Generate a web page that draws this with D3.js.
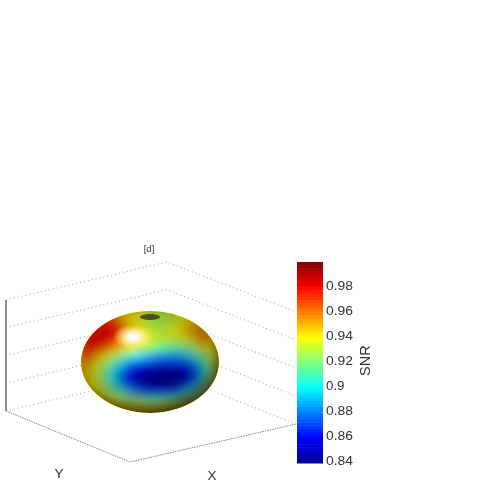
<!DOCTYPE html>
<html lang="en">

<head>
    <meta charset="utf-8">
    <title>SNR surface</title>
    <script src="https://d3js.org/d3.v7.min.js"></script>
    <style>
        html, body { margin: 0; padding: 0; background: #fff; }
        text { font-family: "Liberation Sans", Arial, sans-serif; fill: #333; }
    </style>
</head>

<body>
    <script type="text/javascript">
        var w = 485;
        var h = 485;

        // SNR, row by row from the top of the ball
        var snrRows = [
            [.955, .955, .960, .962, .950, .942, .940, .930, .925, .925, .930, .935, .940, .945, .945, .945],
            [.968, .970, .975, .975, .962, .945, .938, .930, .925, .925, .930, .935, .942, .948, .950, .945],
            [.975, .975, .980, .980, .972, .958, .945, .935, .930, .930, .935, .940, .950, .958, .955, .945],
            [.975, .980, .980, .977, .965, .952, .945, .938, .932, .928, .928, .930, .936, .948, .955, .945],
            [.975, .975, .968, .955, .943, .935, .928, .922, .917, .912, .910, .910, .916, .928, .938, .942],
            [.965, .955, .942, .930, .917, .905, .895, .887, .882, .878, .878, .881, .888, .904, .920, .935],
            [.952, .940, .926, .910, .892, .873, .860, .854, .851, .850, .850, .853, .861, .880, .906, .930],
            [.945, .935, .921, .898, .876, .858, .847, .842, .839, .838, .838, .841, .850, .870, .901, .928],
            [.945, .938, .926, .905, .883, .863, .850, .843, .839, .838, .838, .843, .856, .881, .911, .932],
            [.945, .940, .933, .921, .907, .888, .873, .865, .860, .860, .864, .874, .890, .909, .926, .938],
            [.945, .945, .942, .938, .933, .926, .920, .914, .910, .910, .912, .917, .923, .931, .938, .942],
            [.945, .945, .945, .945, .945, .942, .940, .938, .938, .938, .938, .940, .942, .945, .945, .945]
        ];

        var cbTicks = [0.84, 0.86, 0.88, 0.9, 0.92, 0.94, 0.96, 0.98];
        var cbMin = 0.8376;
        var cbMax = 0.9984;
        var wallLevels = [0, 1, 2, 3, 4];
        var jetStops = ["#00008f", "#0000ff", "#00ffff", "#ffff00", "#ff0000", "#800000"];
        var jetPos = [0, 0.125, 0.375, 0.625, 0.875, 1];

        var svg = d3.select("body")
            .append("svg").attr("width", w).attr("height", h)
            .style("display", "block");
        var defs = svg.append("defs");

        var soft = defs.append("filter").attr("id", "soft")
            .attr("x", "-30%").attr("y", "-30%").attr("width", "160%").attr("height", "160%");
        soft.append("feGaussianBlur").attr("stdDeviation", 4.6).attr("edgeMode", "duplicate");

        var slight = defs.append("filter").attr("id", "slight")
            .attr("x", "-10%").attr("y", "-10%").attr("width", "120%").attr("height", "120%");
        slight.append("feGaussianBlur").attr("stdDeviation", 0.45);

        var t01 = d3.scaleLinear().domain([cbMin, cbMax]).range([0, 1]);
        var jet = d3.scaleLinear().domain(jetPos).range(jetStops).clamp(true);
        var color = function (v) { return jet(t01(v)); };

        // box corners on screen
        var zLeft = d3.scaleLinear().domain([0, 4]).range([411, 300]);
        var zBack = d3.scaleLinear().domain([0, 4]).range([373, 262]);
        var zRight = d3.scaleLinear().domain([0, 4]).range([424, 312]);
        var xLeft = 6, xBack = 167, xRight = 296;

        var walls = svg.append("g").attr("filter", "url(#slight)");
        wallLevels.forEach(function (l) {
            walls.append("path")
                .attr("d", d3.line()([[xLeft, zLeft(l)], [xBack, zBack(l)], [xRight, zRight(l)]]))
                .attr("fill", "none").attr("stroke", "#999")
                .attr("stroke-width", 0.9).attr("stroke-dasharray", "1 3");
        });
        walls.append("path")
            .attr("d", d3.line()([[xLeft, zLeft(0)], [130, 462], [xRight, zRight(0)]]))
            .attr("fill", "none").attr("stroke", "#777")
            .attr("stroke-width", 0.9).attr("stroke-dasharray", "1.5 1");
        walls.append("line")
            .attr("x1", xLeft).attr("x2", xLeft)
            .attr("y1", zLeft(4)).attr("y2", zLeft(0))
            .attr("stroke", "#777").attr("stroke-width", 1.6);

        // the ball
        var cx = 150, cy = 362, rx = 69, ry = 51;
        defs.append("clipPath").attr("id", "ball").append("ellipse")
            .attr("cx", cx).attr("cy", cy).attr("rx", rx).attr("ry", ry);

        var shade = defs.append("radialGradient").attr("id", "shade")
            .attr("cx", "44%").attr("cy", "38%").attr("r", "62%");
        shade.append("stop").attr("offset", "0.1").attr("stop-color", "#000").attr("stop-opacity", 0.04);
        shade.append("stop").attr("offset", "0.5").attr("stop-color", "#000").attr("stop-opacity", 0.2);
        shade.append("stop").attr("offset", "0.8").attr("stop-color", "#000").attr("stop-opacity", 0.34);
        shade.append("stop").attr("offset", "1").attr("stop-color", "#140a00").attr("stop-opacity", 0.75);

        var glow = defs.append("radialGradient").attr("id", "glow");
        glow.append("stop").attr("offset", "0.22").attr("stop-color", "#fff").attr("stop-opacity", 0.98);
        glow.append("stop").attr("offset", "0.55").attr("stop-color", "#fff8a0").attr("stop-opacity", 0.7);
        glow.append("stop").attr("offset", "1").attr("stop-color", "#fff080").attr("stop-opacity", 0);

        var xCell = d3.scaleBand().domain(d3.range(snrRows[0].length)).range([81, 219]);
        var yCell = d3.scaleBand().domain(d3.range(snrRows.length)).range([310, 413]);

        var ball = svg.append("g").attr("clip-path", "url(#ball)");
        ball.append("rect").attr("x", 70).attr("y", 300).attr("width", 160).attr("height", 125)
            .attr("fill", color(0.945));
        var cells = ball.append("g").attr("filter", "url(#soft)");
        snrRows.forEach(function (row, r) {
            cells.selectAll(null).data(row).enter().append("rect")
                .attr("x", function (d, i) { return xCell(i); })
                .attr("y", yCell(r))
                .attr("width", xCell.bandwidth() + 0.5)
                .attr("height", yCell.bandwidth() + 0.5)
                .attr("fill", function (d) { return color(d); });
        });
        ball.append("ellipse").attr("cx", cx).attr("cy", cy).attr("rx", rx).attr("ry", ry)
            .attr("fill", "url(#shade)");
        ball.append("ellipse").attr("cx", 133).attr("cy", 337).attr("rx", 20).attr("ry", 13)
            .attr("fill", "url(#glow)");
        ball.append("ellipse").attr("cx", 150).attr("cy", 317).attr("rx", 10).attr("ry", 3)
            .attr("fill", "#4f4f14").attr("filter", "url(#slight)");

        // colorbar
        var cbY = d3.scaleLinear().domain([0.84, 0.98]).range([460, 285]);
        var nColors = 64;
        var cbStep = (cbMax - cbMin) / nColors;
        var cb = svg.append("g");
        cb.selectAll("rect").data(d3.range(nColors)).enter().append("rect")
            .attr("x", 297).attr("width", 26)
            .attr("y", function (i) { return cbY(cbMin + (i + 1) * cbStep); })
            .attr("height", function (i) { return cbY(cbMin + i * cbStep) - cbY(cbMin + (i + 1) * cbStep) + 0.5; })
            .attr("fill", function (i) { return color(cbMin + (i + 0.5) * cbStep); });

        var labels = svg.append("g").attr("filter", "url(#slight)");
        labels.selectAll("text.tick").data(cbTicks).enter().append("text")
            .attr("class", "tick")
            .attr("x", 326)
            .attr("y", function (d) { return cbY(d) + 4.5; })
            .attr("textLength", function (d) { return String(d).length == 3 ? 18.5 : 27; })
            .attr("lengthAdjust", "spacingAndGlyphs")
            .style("font-size", "12px")
            .text(function (d) { return d; });
        labels.append("text")
            .attr("transform", "translate(370,376) rotate(-90)")
            .style("font-size", "14.5px")
            .text("SNR");
        labels.append("text").attr("x", 149).attr("y", 252)
            .attr("text-anchor", "middle").style("font-size", "9.5px").text("[d]");
        labels.append("text").attr("x", 59).attr("y", 478)
            .attr("text-anchor", "middle").style("font-size", "13.5px").text("Y");
        labels.append("text").attr("x", 212).attr("y", 480)
            .attr("text-anchor", "middle").style("font-size", "13.5px").text("X");
    </script>
</body>

</html>
